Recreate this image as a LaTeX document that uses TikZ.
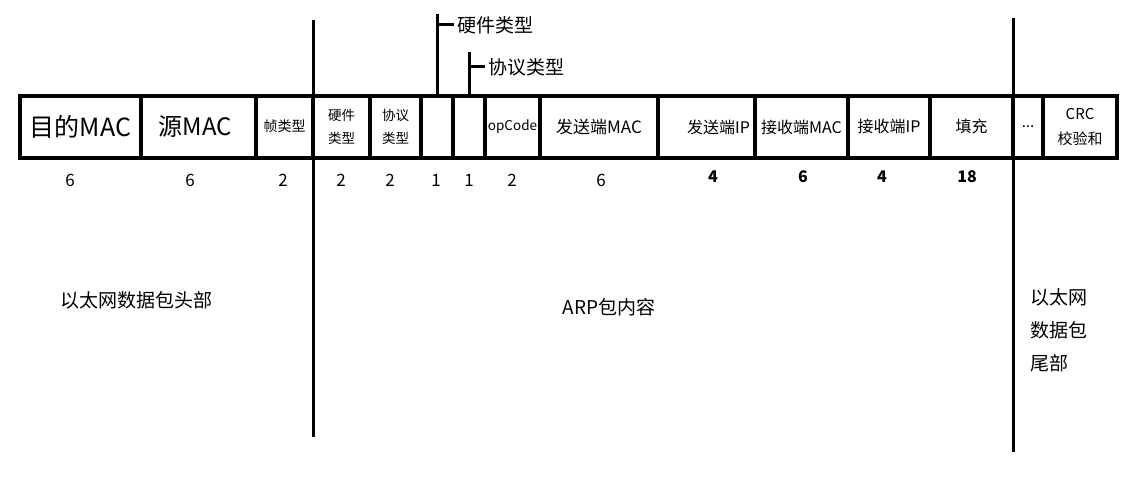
\documentclass[tikz,border=0pt]{standalone}
\usepackage{fontspec}
\setmainfont{Noto Sans CJK SC}
\usepackage{tikz}
\usetikzlibrary{positioning}
\usetikzlibrary{calc}
\tikzstyle{field}=[draw,line width=3.5pt,rectangle,outer sep=0pt,inner sep=0pt,minimum height=62pt,anchor=west]
\tikzstyle{num}=[font=\fontsize{17}{20}\selectfont]
\tikzstyle{bnum}=[font=\fontsize{16}{19}\selectfont\bfseries]

\begin{document}
\begin{tikzpicture}[x=1pt,y=-1pt,node distance=0pt,
  bar/.style={line width=3pt},
  part/.style={font=\fontsize{19}{33}\selectfont,align=left}]
\useasboundingbox (0,0) rectangle (1121,489);
\node [field,minimum width=121pt,font=\fontsize{25}{28}\selectfont] (dmac) at (20,127) {目的MAC};
\node [field,minimum width=115pt,font=\fontsize{24}{28}\selectfont,right=of dmac] (smac) {\hspace{-6pt}源MAC};
\node [field,minimum width=57pt,font=\fontsize{14}{16}\selectfont,right=of smac] (ftype) {\raisebox{3pt}{帧类型}};
\node [field,minimum width=57pt,font=\fontsize{13.5}{23}\selectfont,align=center,right=of ftype] (hwtype) {硬件\hspace{8pt}\\类型\hspace{8pt}};
\node [field,minimum width=51pt,font=\fontsize{13.5}{23}\selectfont,align=center,right=of hwtype] (prtype) {协议\\类型};
\node [field,minimum width=32pt,right=of prtype] (hlen) {};
\node [field,minimum width=32pt,right=of hlen] (plen) {};
\node [field,minimum width=55pt,font=\fontsize{13.5}{15}\selectfont,right=of plen] (op) {\raisebox{2pt}{opCode}};
\node [field,minimum width=118pt,font=\fontsize{17}{20}\selectfont,right=of op] (sha) {发送端MAC};
\node [field,minimum width=97pt,font=\fontsize{16}{19}\selectfont,right=of sha] (spa) {\hspace{24pt}发送端IP};
\node [field,minimum width=93pt,font=\fontsize{16}{19}\selectfont,right=of spa] (tha) {接收端MAC};
\node [field,minimum width=82pt,font=\fontsize{16}{19}\selectfont,right=of tha] (tpa) {\raisebox{3pt}{接收端IP}};
\node [field,minimum width=83pt,font=\fontsize{16}{19}\selectfont,right=of tpa] (pad) {\raisebox{3pt}{填充}};
\node [field,minimum width=30pt,font=\fontsize{15}{17}\selectfont,right=of pad] (dots) {...};
\node [field,minimum width=74pt,font=\fontsize{15}{25}\selectfont,align=center,right=of dots] (crc) {CRC\\校验和};

% field lengths
\node [num] (n1) at (70,180) {6};
\node [num] (n2) at (190,180) {6};
\node [num] (n3) at (283,180) {2};
\node [num] (n4) at (341,180) {2};
\node [num] (n5) at (390,180) {2};
\node [num] (n6) at (436,180) {1};
\node [num] (n7) at (469,180) {1};
\node [num] (n8) at (512,180) {2};
\node [num] (n9) at (601,180) {6};
\node [bnum] (n10) at (713,177) {4};
\node [bnum] (n11) at (803,177) {6};
\node [bnum] (n12) at (882,177) {4};
\node [bnum] (n13) at (967,177) {18};

% top notes
\coordinate (t1) at ($(hlen.north)+(0,-82)$);
\coordinate (t2) at ($(plen.north)+(0,-44)$);
\node [font=\fontsize{19}{22}\selectfont,anchor=west] (hlab) at ($(t1)+(17,11)$) {硬件类型};
\node [font=\fontsize{19}{22}\selectfont,anchor=west] (plab) at ($(t2)+(16,15)$) {协议类型};
\draw [bar] (hlen.north) -- (t1);
\draw [bar] (t1 |- hlab.west) -- (hlab.west);
\draw [bar] (plen.north) -- (t2);
\draw [bar] (t2 |- plab.west) -- (plab.west);

% section bars
\coordinate (a1) at ($(ftype.east)+(0,-107)$);
\coordinate (a2) at ($(ftype.east)+(0,310)$);
\coordinate (b1) at ($(pad.east)+(0,-109)$);
\coordinate (b2) at ($(pad.east)+(0,325)$);
\draw [bar] (a1) -- (a2);
\draw [bar] (b1) -- (b2);

\node [part,anchor=west] (head) at (57,300) {以太网数据包头部};
\node [part,anchor=west] (body) at (559,307) {ARP包内容};
\node [part,anchor=north west] (tail) at (1027,285) {以太网\\数据包\\尾部};
\end{tikzpicture}
\end{document}
